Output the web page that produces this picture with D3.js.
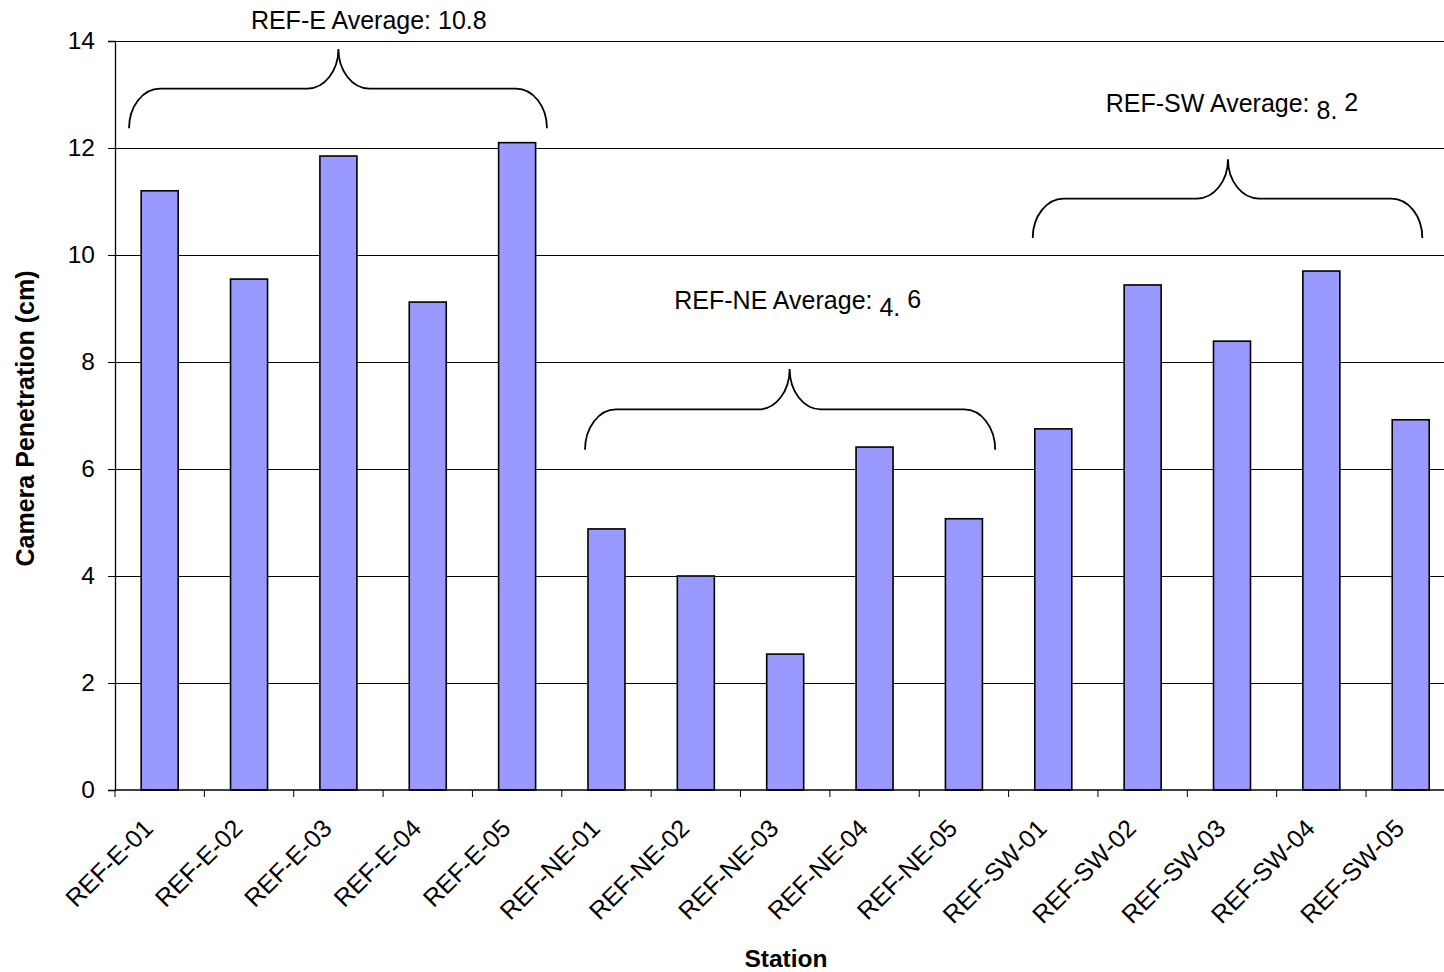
<!DOCTYPE html>
<html><head><meta charset="utf-8">
<script src="https://cdn.jsdelivr.net/npm/d3@7"></script>
<style>
html,body{margin:0;padding:0;background:#fff;}
svg{display:block;font-family:"Liberation Sans",Arial,sans-serif;}
</style></head>
<body>
<svg id="chart" width="1444" height="972"></svg>
<script>
// ---- data ----
const stations = ["REF-E-01","REF-E-02","REF-E-03","REF-E-04","REF-E-05",
  "REF-NE-01","REF-NE-02","REF-NE-03","REF-NE-04","REF-NE-05",
  "REF-SW-01","REF-SW-02","REF-SW-03","REF-SW-04","REF-SW-05"];
const penetration = [11.2, 9.55, 11.85, 9.12, 12.1,
  4.88, 4.0, 2.54, 6.41, 5.07,
  6.75, 9.44, 8.39, 9.7, 6.92];
const yTicks = [0, 2, 4, 6, 8, 10, 12, 14];
// annotations (x in category units, y in cm)
const groupLabelStart = ["REF-E Average: ", "REF-NE Average: ", "REF-SW Average: "];
const groupLabelLow = ["10.8", "4.", "8."];
const groupLabelHigh = ["", " 6", " 2"];
const labelX = [2.84, 7.64, 12.5];
const labelY = [14.22, 8.99, 12.67];
const braceStart = [0.157, 5.26, 10.27];
const braceEnd = [4.834, 9.85, 14.63];
const braceTip = [2.50, 7.55, 12.455];
const braceBase = [12.37, 6.36, 10.32];
const braceTop = [13.85, 7.87, 11.79];

(function () {
// ---- layout ----
const svg = d3.select("#chart");
const mLeft = 115, mTop = 41, mBottom = 790;
const step = 89.36;
const mRight = mLeft + step * stations.length;
const fs = 25;

const x = d3.scaleBand().domain(stations).range([mLeft, mRight])
  .paddingInner(0.586).paddingOuter(0.293);
const xPos = d3.scaleLinear().domain([0, stations.length]).range([mLeft, mRight]);
const y = d3.scaleLinear().domain([0, 14]).range([mBottom, mTop]);

// gridlines
svg.append("g").selectAll("line").data(yTicks.filter(d => d > 0)).join("line")
  .attr("x1", mLeft).attr("x2", mRight)
  .attr("y1", d => y(d)).attr("y2", d => y(d))
  .attr("stroke", "#000").attr("stroke-width", 1)
  .attr("shape-rendering", "crispEdges");

// bars
svg.append("g").selectAll("rect").data(penetration).join("rect")
  .attr("x", (d, i) => x(stations[i]))
  .attr("y", d => y(d))
  .attr("width", x.bandwidth())
  .attr("height", d => y(0) - y(d))
  .attr("fill", "#9999FF")
  .attr("stroke", "#000").attr("stroke-width", 1.6);

// y axis
const yAxis = d3.axisLeft(y).tickValues(yTicks).tickSize(7).tickPadding(13);
const gy = svg.append("g").attr("transform", `translate(${mLeft},0)`).call(yAxis);
gy.select(".domain").attr("stroke", "#000").attr("stroke-width", 1.3);
gy.selectAll(".tick line").attr("stroke", "#000");
gy.selectAll(".tick text").attr("font-size", fs - 0.5).attr("fill", "#000")
  .attr("font-family", "Liberation Sans, Arial, sans-serif");

// x axis: line and ticks at band boundaries
const gx = svg.append("g");
gx.append("line").attr("x1", mLeft).attr("x2", mRight)
  .attr("y1", y(0)).attr("y2", y(0)).attr("stroke", "#000").attr("stroke-width", 1.3);
gx.selectAll("line.tk").data(d3.range(stations.length + 1)).join("line")
  .attr("class", "tk")
  .attr("x1", d => xPos(d)).attr("x2", d => xPos(d))
  .attr("y1", y(0)).attr("y2", y(0) + 7)
  .attr("stroke", "#000").attr("stroke-width", 1);
gx.selectAll("text").data(stations).join("text")
  .attr("transform", d => `translate(${x(d) + x.bandwidth() / 2 - 5},${y(0) + 40}) rotate(-45)`)
  .attr("text-anchor", "end")
  .attr("font-size", fs).attr("fill", "#000")
  .text(d => d);

// axis titles
svg.append("text")
  .attr("transform", `translate(34,${(mTop + mBottom) / 2 + 3}) rotate(-90)`)
  .attr("text-anchor", "middle").attr("font-size", fs).attr("font-weight", "bold")
  .text("Camera Penetration (cm)");
svg.append("text")
  .attr("x", 786).attr("y", 967)
  .attr("text-anchor", "middle").attr("font-size", fs - 0.5).attr("font-weight", "bold")
  .text("Station");

// braces
const k = 0.5523, rx = 31;
function bracePath(i) {
  const x0 = xPos(braceStart[i]), x1 = xPos(braceEnd[i]), xt = xPos(braceTip[i]);
  const yE = y(braceBase[i]), yT = y(braceTop[i]);
  const yM = (yE + yT) / 2;
  const ry1 = yE - yM, ry2 = yM - yT;
  const p = d3.path();
  p.moveTo(x0, yE);
  p.bezierCurveTo(x0, yE - k * ry1, x0 + rx - k * rx, yM, x0 + rx, yM);
  p.lineTo(xt - rx, yM);
  p.bezierCurveTo(xt - rx + k * rx, yM, xt, yT + k * ry2, xt, yT);
  p.bezierCurveTo(xt, yT + k * ry2, xt + rx - k * rx, yM, xt + rx, yM);
  p.lineTo(x1 - rx, yM);
  p.bezierCurveTo(x1 - rx + k * rx, yM, x1, yE - k * ry1, x1, yE);
  return p.toString();
}
svg.append("g").selectAll("path").data(braceStart).join("path")
  .attr("d", (d, i) => bracePath(i))
  .attr("fill", "none").attr("stroke", "#000").attr("stroke-width", 1.8);

// group labels
const lab = svg.append("g").selectAll("text").data(groupLabelStart).join("text")
  .attr("x", (d, i) => xPos(labelX[i]))
  .attr("y", (d, i) => y(labelY[i]))
  .attr("text-anchor", "middle").attr("font-size", fs).attr("fill", "#000");
lab.append("tspan").text(d => d);
lab.append("tspan").attr("dy", (d, i) => groupLabelHigh[i] ? 7 : 0)
  .text((d, i) => groupLabelLow[i]);
lab.append("tspan").attr("dy", (d, i) => groupLabelHigh[i] ? -8 : 0)
  .text((d, i) => groupLabelHigh[i]);
})();
</script>
</body></html>
